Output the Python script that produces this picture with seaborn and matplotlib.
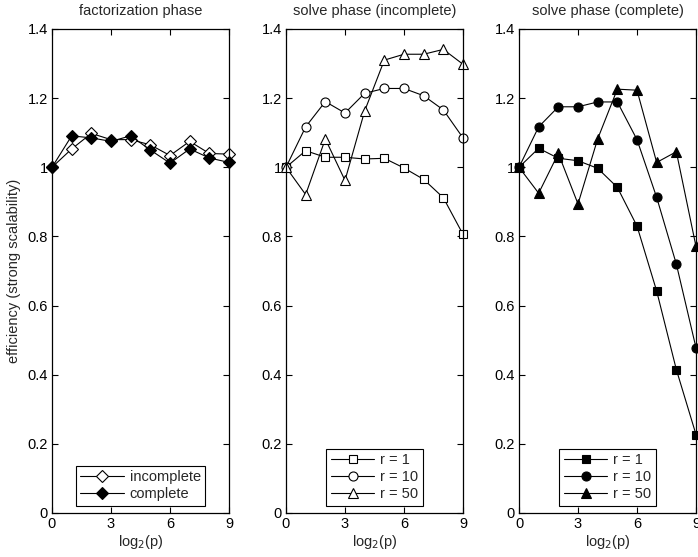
import matplotlib
matplotlib.use("Agg")
import matplotlib.pyplot as plt
import seaborn as sns

sns.set_style("ticks")
plt.rcParams.update({
    "font.family": ["Liberation Sans", "DejaVu Sans"],
    "font.size": 10.5,
    "axes.linewidth": 0.9,
    "xtick.direction": "in",
    "ytick.direction": "in",
    "xtick.top": True,
    "ytick.right": True,
    "xtick.major.size": 4,
    "ytick.major.size": 4,
    "axes.edgecolor": "black",
    "xtick.color": "black",
    "ytick.color": "black",
})

# ─── data ────────────────────────────────────────────────────────────────────
log2p = [0, 1, 2, 3, 4, 5, 6, 7, 8, 9]

fact_incomplete = [1.0, 1.053, 1.098, 1.080, 1.080, 1.065, 1.034, 1.075, 1.040, 1.038]
fact_complete   = [1.0, 1.091, 1.085, 1.075, 1.091, 1.050, 1.012, 1.053, 1.027, 1.014]

inc_r1  = [1.0, 1.048, 1.029, 1.029, 1.024, 1.026, 0.998, 0.965, 0.912, 0.806]
inc_r10 = [1.0, 1.117, 1.190, 1.157, 1.214, 1.228, 1.228, 1.207, 1.166, 1.085]
inc_r50 = [1.0, 0.921, 1.082, 0.962, 1.163, 1.310, 1.327, 1.327, 1.341, 1.298]

com_r1  = [1.0, 1.055, 1.026, 1.019, 0.997, 0.942, 0.830, 0.642, 0.415, 0.227]
com_r10 = [1.0, 1.117, 1.175, 1.175, 1.189, 1.189, 1.080, 0.913, 0.720, 0.478]
com_r50 = [1.0, 0.925, 1.040, 0.894, 1.082, 1.226, 1.223, 1.014, 1.045, 0.771]

titles = ["factorization phase", "solve phase (incomplete)", "solve phase (complete)"]
r_labels = ["r = 1", "r = 10", "r = 50"]

panels = [
    [(fact_incomplete, "D", False, "incomplete"), (fact_complete, "D", True, "complete")],
    [(inc_r1, "s", False, r_labels[0]), (inc_r10, "o", False, r_labels[1]),
     (inc_r50, "^", False, r_labels[2])],
    [(com_r1, "s", True, r_labels[0]), (com_r10, "o", True, r_labels[1]),
     (com_r50, "^", True, r_labels[2])],
]
msize = {"D": 6, "s": 5.5, "o": 6.5, "^": 7}

fig = plt.figure(figsize=(6.98, 5.57), dpi=100)
lefts = [52 / 698, 286 / 698, 519 / 698]
w = 177 / 698
bottom = 44 / 557
h = 484 / 557

for i, (left, series) in enumerate(zip(lefts, panels)):
    ax = fig.add_axes([left, bottom, w, h])
    for vals, mk, filled, lab in series:
        sns.lineplot(x=log2p, y=vals, ax=ax, color="black", linewidth=0.8,
                     marker=mk, markersize=msize[mk],
                     markerfacecolor="black" if filled else "white",
                     markeredgecolor="black", markeredgewidth=0.8,
                     label=lab, clip_on=False)
    ax.set_xlim(0, 9)
    ax.set_ylim(0, 1.4)
    ax.set_xticks([0, 3, 6, 9])
    ax.set_yticks([0, 0.2, 0.4, 0.6, 0.8, 1.0, 1.2, 1.4])
    ax.set_yticklabels(["0", "0.2", "0.4", "0.6", "0.8", "1", "1.2", "1.4"])
    ax.set_title(titles[i], fontsize=10.5, pad=10)
    ax.set_xlabel("log$_2$(p)", fontsize=10.5, labelpad=1)
    ax.tick_params(labelsize=10.5, width=0.8, pad=3)
    if i == 0:
        ax.set_ylabel("efficiency (strong scalability)", fontsize=10.5, labelpad=5)
    leg = ax.legend(loc="lower center", frameon=True, fancybox=False,
                    edgecolor="black", framealpha=1, fontsize=10.5,
                    handlelength=3, borderpad=0.3, labelspacing=0.2,
                    handletextpad=0.4, borderaxespad=0.5)
    leg.get_frame().set_linewidth(0.8)
    for sp in ax.spines.values():
        sp.set_zorder(5)

fig.savefig("out.png", dpi=100)
